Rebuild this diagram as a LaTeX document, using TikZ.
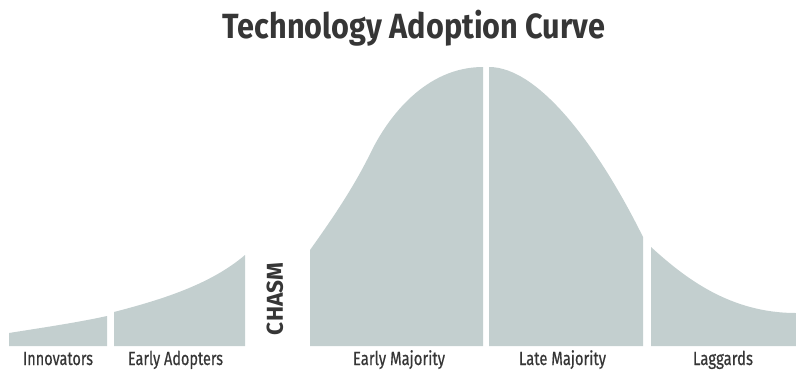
\documentclass[tikz,border=0pt]{standalone}
\usepackage{fontspec}
\usepackage{graphicx}
\setmainfont{Fira Sans}
\definecolor{curvefill}{HTML}{C3CFCF}
\definecolor{labeltext}{HTML}{363636}
\tikzset{
  segment/.style={fill=curvefill, draw=none},
  lbl/.style={text=labeltext, inner sep=0pt, anchor=base, font=\fontsize{19}{19}\selectfont\addfontfeature{FakeBold=0.6}},
  ttl/.style={text=labeltext, inner sep=0pt, anchor=base, font=\fontsize{35}{35}\selectfont\bfseries},
}
\newcommand\fitw[2]{\resizebox{#1}{\height}{#2}}
\begin{document}
\begin{tikzpicture}[x=1pt,y=-1pt]
\useasboundingbox (0,0) rectangle (796,370);
% segments
\fill[segment] (9,346) -- (9,333) .. controls (40,328) and (75,323) .. (107,316) -- (107,346) -- cycle;
\fill[segment] (114,346) -- (114,312) .. controls (160,300) and (210,285) .. (245,255) -- (245,346) -- cycle;
\fill[segment] (310,346) -- (310,250)
  .. controls (335,215) and (355,185) .. (372,150)
  .. controls (388,118) and (425,67) .. (483,67)
  -- (483,346) -- cycle;
\fill[segment] (489,346) -- (489,67)
  .. controls (540,67) and (600,150) .. (643,237)
  -- (643,346) -- cycle;
\fill[segment] (651,346) -- (651,247)
  .. controls (685,278) and (730,313) .. (796,313)
  -- (796,346) -- cycle;
% title
\node[ttl] (title) at (414,38) {\fitw{382pt}{Technology Adoption Curve}};
% labels
\node[lbl] (innov) at (58,365) {\fitw{70pt}{Innovators}};
\node[lbl] (early) at (175.5,365) {\fitw{95pt}{Early Adopters}};
\node[lbl] (emaj) at (399,365) {\fitw{92pt}{Early Majority}};
\node[lbl] (lmaj) at (562.5,365) {\fitw{87pt}{Late Majority}};
\node[lbl] (lagg) at (723,365) {\fitw{60pt}{Laggards}};
% chasm
\node[text=labeltext, inner sep=0pt, rotate=90, font=\fontsize{23}{23}\selectfont\bfseries] (chasm) at (275,299) {\fitw{72pt}{CHASM}};
\end{tikzpicture}
\end{document}
